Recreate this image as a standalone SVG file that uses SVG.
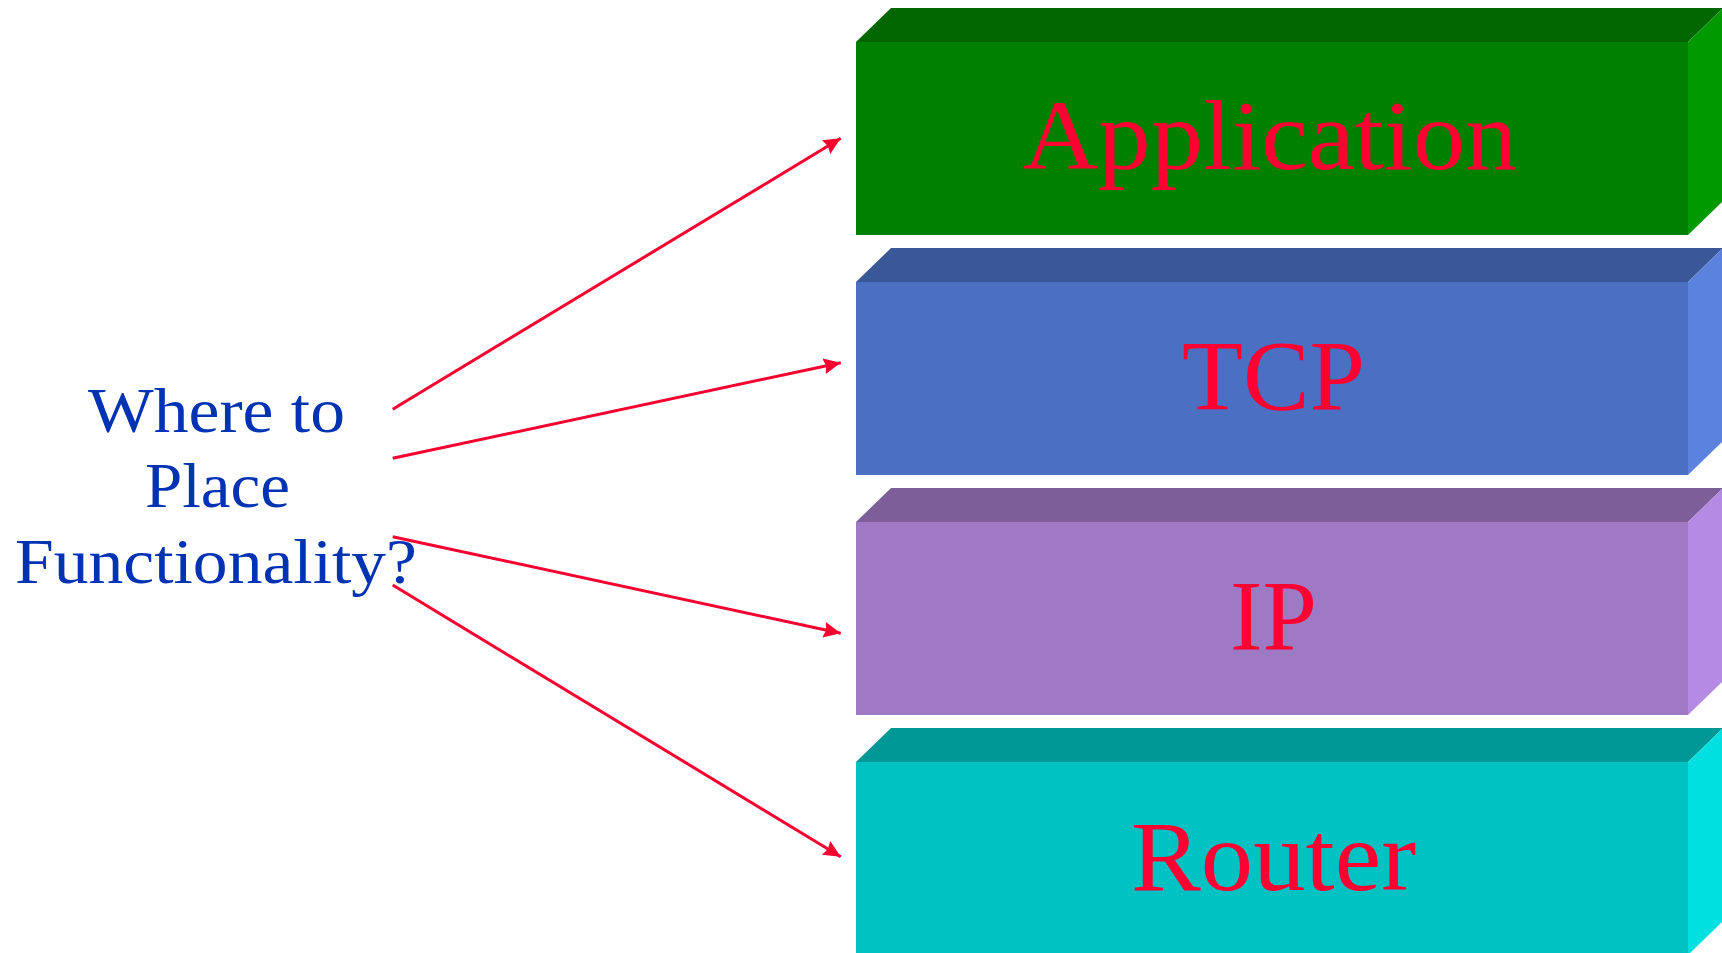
<svg xmlns="http://www.w3.org/2000/svg" width="1722" height="953" viewBox="0 0 1722 953">
<defs>
<style>
.lbl{font-family:"Liberation Serif","Times New Roman",serif;font-size:100px;fill:#FF0033;text-anchor:middle}
.q{font-family:"Liberation Serif","Times New Roman",serif;font-size:63px;fill:#0033B3;text-anchor:middle}
.conn{stroke:#F5002F;stroke-width:3;fill:none}
</style>
<marker id="ah" markerUnits="userSpaceOnUse" markerWidth="20" markerHeight="16" refX="17" refY="8" orient="auto">
<path d="M0,0 L17,8 L0,16 L2,8 z" fill="#F5002F"/>
</marker>
</defs>
<rect width="1722" height="953" fill="#FFFFFF"/>
<g id="app">
<polygon points="856,42 891,8 1723,8 1688,42" fill="#006600"/>
<polygon points="1688,42 1723,8 1723,201 1688,235" fill="#009900"/>
<rect x="856" y="42" width="832" height="193" fill="#008000"/>
<text class="lbl" x="1270" y="169" textLength="495" lengthAdjust="spacingAndGlyphs">Application</text>
</g>
<g id="tcp">
<polygon points="856,282 891,248 1723,248 1688,282" fill="#3A5897"/>
<polygon points="1688,282 1723,248 1723,441 1688,475" fill="#5B83DE"/>
<rect x="856" y="282" width="832" height="193" fill="#4A6FC3"/>
<text class="lbl" x="1273.5" y="409" textLength="183" lengthAdjust="spacingAndGlyphs">TCP</text>
</g>
<g id="ip">
<polygon points="856,522 891,488 1723,488 1688,522" fill="#7D5E98"/>
<polygon points="1688,522 1723,488 1723,681 1688,715" fill="#B58AE3"/>
<rect x="856" y="522" width="832" height="193" fill="#9E79C4"/>
<text class="lbl" x="1273.5" y="649" textLength="87" lengthAdjust="spacingAndGlyphs">IP</text>
</g>
<g id="router">
<polygon points="856,762 891,728 1723,728 1688,762" fill="#009797"/>
<polygon points="1688,762 1723,728 1723,921 1688,955" fill="#00E0E0"/>
<rect x="856" y="762" width="832" height="193" fill="#00C2C2"/>
<text class="lbl" x="1273.5" y="890" textLength="285" lengthAdjust="spacingAndGlyphs">Router</text>
</g>
<g id="question">
<text class="q" x="216.5" y="431.7" textLength="257" lengthAdjust="spacingAndGlyphs">Where to</text>
<text class="q" x="217.5" y="507" textLength="145" lengthAdjust="spacingAndGlyphs">Place</text>
<text class="q" x="216" y="583" textLength="402" lengthAdjust="spacingAndGlyphs">Functionality?</text>
</g>
<g id="connectors">
<line class="conn" x1="392.7" y1="409.3" x2="840.7" y2="138.3" marker-end="url(#ah)"/>
<line class="conn" x1="392.7" y1="458.3" x2="840.7" y2="362.7" marker-end="url(#ah)"/>
<line class="conn" x1="392.7" y1="536.7" x2="840.7" y2="633.3" marker-end="url(#ah)"/>
<line class="conn" x1="392.7" y1="585" x2="840.7" y2="856.7" marker-end="url(#ah)"/>
</g>
</svg>
